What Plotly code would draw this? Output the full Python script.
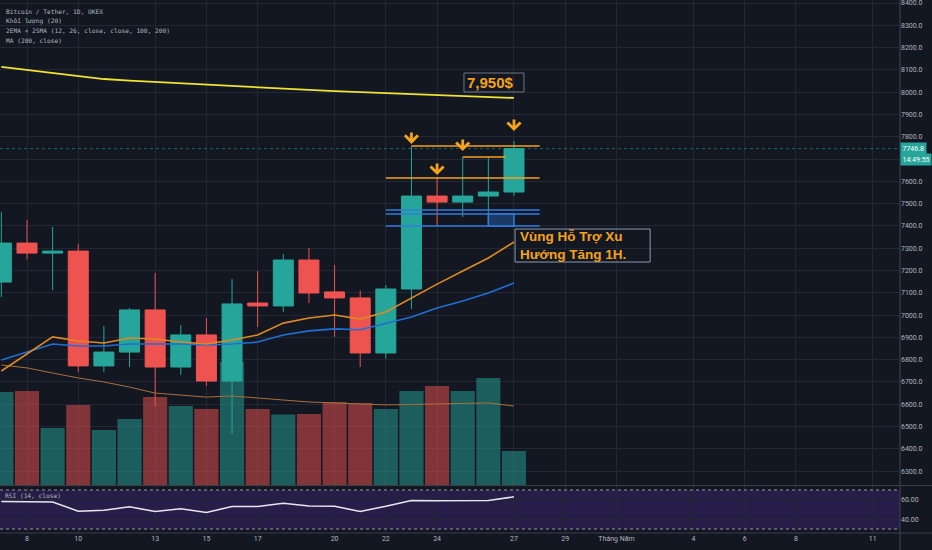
import pandas as pd
import plotly.graph_objects as go

# daily candles BTC/USDT (OKEX), 7 -> 27 April 2020
dates = pd.date_range("2020-04-07", "2020-04-27", freq="D").strftime("%Y-%m-%d").tolist()

open_ = [7148, 7323, 7278, 7287, 6772, 6834, 7023, 6767, 6911, 6704, 7054,
         7041, 7247, 7104, 7077, 6830, 7117, 7534, 7507, 7534, 7552]
high = [7462, 7427, 7395, 7319, 6951, 7032, 7189, 6955, 6987, 7162, 7198,
        7274, 7301, 7225, 7110, 7135, 7758, 7620, 7709, 7709, 7781]
low = [7081, 7250, 7112, 6745, 6745, 6767, 6592, 6731, 6682, 6467, 6947,
       7014, 7054, 6902, 6767, 6805, 7027, 7400, 7440, 7400, 7535]
close = [7323, 7278, 7287, 6772, 6834, 7023, 6767, 6911, 6704, 7050, 7041,
         7247, 7099, 7077, 6830, 7117, 7534, 7507, 7534, 7552, 7746.8]

# volume (thousands)
volume = [93, 94, 57, 80, 55, 66, 88, 79, 76, 123, 76,
          70.5, 71, 83, 82, 76, 94, 99, 94, 107, 34]

ema12 = [6749, 6825, 6902, 6884, 6875, 6897, 6893, 6879, 6870, 6888, 6911,
         6964, 6987, 7000, 6982, 7014, 7077, 7139, 7198, 7256, 7328]
ema26 = [6798, 6834, 6870, 6861, 6861, 6870, 6870, 6870, 6866, 6870, 6879,
         6911, 6929, 6938, 6934, 6964, 6991, 7032, 7063, 7099, 7144]
sma100 = [6776, 6763, 6740, 6718, 6700, 6677, 6650, 6641, 6632, 6637, 6628,
          6619, 6610, 6606, 6601, 6597, 6599, 6601, 6601, 6606, 6592]
ma200 = [8113, 8099, 8086, 8072, 8059, 8052, 8046, 8039, 8032, 8025, 8019,
         8014, 8010, 8005, 8001, 7996, 7992, 7987, 7983, 7978, 7974]

rsi = [58.3, 58.0, 57.7, 48.3, 49.3, 52.7, 48.0, 50.7, 47.0, 53.0, 53.0,
       56.3, 53.7, 53.3, 48.0, 53.3, 59.3, 59.0, 59.2, 59.3, 63.0]

tick_dates = ["2020-04-08", "2020-04-10", "2020-04-13", "2020-04-15", "2020-04-17",
              "2020-04-20", "2020-04-22", "2020-04-24", "2020-04-27", "2020-04-29",
              "2020-05-01", "2020-05-04", "2020-05-06", "2020-05-08", "2020-05-11"]
tick_text = ["8", "10", "13", "15", "17", "20", "22", "24", "27", "29",
             "Tháng Năm", "4", "6", "8", "11"]

price_ticks = list(range(6300, 8500, 100))
price_text = ["" if p == 7700 else f"{p:.1f}" for p in price_ticks]

# drawings on the chart
orange_levels = [7758, 7709, 7615]
orange_start = ["2020-04-23", "2020-04-25", "2020-04-22"]
orange_end = ["2020-04-28", "2020-04-26 16:00", "2020-04-28"]
blue_levels = [7471, 7453, 7400]
arrow_dates = ["2020-04-23", "2020-04-24", "2020-04-25", "2020-04-27"]
arrow_tips = [7768, 7628, 7736, 7826]

note_price = "7,950$"
note_zone = ["Vùng Hỗ Trợ Xu", "Hướng Tăng 1H."]

legend_lines = ["Bitcoin / Tether, 1D, OKEX", "Khối lượng (20)",
                "2EMA + 2SMA (12, 26, close, close, 100, 200)", "MA (200, close)"]

bg = "#131722"
grid = "#232734"
txt = "#b2b5be"
up = "#26a69a"
down = "#ef5350"
orange = "#f5a31a"
blue = "#2f7de1"
x_range = ["2020-04-06 22:43", "2020-05-12 01:28"]

vol_colors = ["rgba(38,166,154,0.5)" if c >= o else "rgba(239,83,80,0.5)"
              for o, c in zip(open_, close)]

fig = go.Figure()
fig.add_trace(go.Bar(x=dates, y=volume, marker_color=vol_colors, marker_line_width=0,
                     xaxis="x", yaxis="y"))
fig.add_trace(go.Scatter(x=dates, y=sma100, mode="lines", line=dict(color="#a8703a", width=1),
                         yaxis="y2"))
fig.add_trace(go.Scatter(x=dates, y=ema26, mode="lines", line=dict(color="#1f6fd6", width=1.6),
                         yaxis="y2"))
fig.add_trace(go.Scatter(x=dates, y=ema12, mode="lines", line=dict(color="#de8a22", width=1.6),
                         yaxis="y2"))
fig.add_trace(go.Scatter(x=dates, y=ma200, mode="lines", line=dict(color="#f2e232", width=1.8),
                         yaxis="y2"))
fig.add_trace(go.Candlestick(
    x=dates, open=open_, high=high, low=low, close=close, yaxis="y2",
    increasing=dict(fillcolor=up, line=dict(color=up, width=1)),
    decreasing=dict(fillcolor=down, line=dict(color=down, width=1)),
    whiskerwidth=0,
))
fig.add_trace(go.Scatter(x=dates, y=rsi, mode="lines", line=dict(color="#e6e6ee", width=1.5),
                         xaxis="x2", yaxis="y3"))

shapes = [
    # rsi band and bounds
    dict(type="rect", xref="x2 domain", yref="y3", x0=0, x1=1, y0=30, y1=70,
         fillcolor="rgba(115,60,225,0.2)", line_width=0, layer="below"),
    dict(type="line", xref="x2 domain", yref="y3", x0=0, x1=1, y0=70, y1=70,
         line=dict(color="#9598a1", width=1, dash="dot")),
    dict(type="line", xref="x2 domain", yref="y3", x0=0, x1=1, y0=30, y1=30,
         line=dict(color="#9598a1", width=1, dash="dot")),
    # last price line
    dict(type="line", xref="x domain", yref="y2", x0=0, x1=1, y0=close[-1], y1=close[-1],
         line=dict(color="rgba(38,166,154,0.55)", width=1, dash="dot")),
    # pane borders
    dict(type="line", xref="paper", yref="paper", x0=0, x1=932 / 900, y0=1 - 485.5 / 533,
         y1=1 - 485.5 / 533, line=dict(color="#3a3e4a", width=1.2)),
    dict(type="line", xref="paper", yref="paper", x0=0, x1=932 / 900, y0=0, y1=0,
         line=dict(color="#3a3e4a", width=1.2)),
    dict(type="line", xref="paper", yref="paper", x0=1, x1=1, y0=-17 / 533, y1=1,
         line=dict(color="#3a3e4a", width=1.2)),
    # frames of the two text notes
    dict(type="rect", xref="x", yref="y2", x0="2020-04-25 01:10", x1="2020-04-27 09:20",
         y0=8001, y1=8086, line=dict(color="#6e7480", width=1)),
    dict(type="rect", xref="x", yref="y2", x0="2020-04-27 01:00", x1="2020-05-02 07:30",
         y0=7238, y1=7386, line=dict(color="#8d9bb0", width=1)),
]
for lvl, s, e in zip(orange_levels, orange_start, orange_end):
    shapes.append(dict(type="line", xref="x", yref="y2", x0=s, x1=e, y0=lvl, y1=lvl,
                       line=dict(color=orange, width=1.5)))
for lvl in blue_levels:
    shapes.append(dict(type="line", xref="x", yref="y2", x0="2020-04-22", x1="2020-04-28",
                       y0=lvl, y1=lvl, line=dict(color=blue, width=1.5)))
shapes.append(dict(type="rect", xref="x", yref="y2", x0="2020-04-26", x1="2020-04-27",
                   y0=blue_levels[2], y1=blue_levels[1], fillcolor="#1b3b66",
                   line=dict(color=blue, width=1.5)))

annotations = []
for i, line in enumerate(legend_lines):
    annotations.append(dict(xref="paper", yref="paper", x=4 / 900, y=1 - (11 + 10 * i) / 533,
                            xanchor="left", yanchor="middle", showarrow=False, text=line,
                            font=dict(family="DejaVu Sans Mono", size=6.2, color=txt)))
annotations.append(dict(xref="paper", yref="paper", x=3 / 900, y=1 - 495 / 533,
                        xanchor="left", yanchor="middle", showarrow=False,
                        text="RSI (14, close)",
                        font=dict(family="DejaVu Sans Mono", size=6.2, color=txt)))
for d, p in zip(arrow_dates, arrow_tips):
    annotations.append(dict(x=d, y=p, xref="x", yref="y2", text="", showarrow=True,
                            ax=0, ay=-13, arrowhead=4, arrowsize=0.9, arrowwidth=2.8,
                            arrowcolor=orange, standoff=0))
annotations.append(dict(x="2020-04-26 02:00", y=8042, xref="x", yref="y2", showarrow=False,
                        text=f"<b>{note_price}</b>",
                        font=dict(family="Liberation Sans", size=15, color=orange)))
annotations.append(dict(x="2020-04-27 03:30", y=7312, xref="x", yref="y2", showarrow=False,
                        xanchor="left", yanchor="middle", align="left",
                        text="<b>" + "<br>".join(note_zone) + "</b>",
                        font=dict(family="Liberation Sans", size=13.5, color=orange)))
# right scale labels
annotations.append(dict(xref="paper", yref="y2", x=1, y=close[-1], xanchor="left",
                        showarrow=False, text=f"{close[-1]:.1f}", bgcolor=up, borderpad=1.5,
                        font=dict(family="Roboto", size=7, color="white")))
annotations.append(dict(xref="paper", yref="y2", x=1, y=7698, xanchor="left",
                        showarrow=False, text="14:49:55", bgcolor=up, borderpad=1.5,
                        font=dict(family="Roboto", size=7, color="white")))

fig.update_layout(
    width=932, height=550,
    margin=dict(l=0, r=32, t=0, b=17),
    paper_bgcolor=bg, plot_bgcolor=bg,
    showlegend=False,
    bargap=0.06,
    boxgap=0.22,
    boxgroupgap=0,
    font=dict(family="Roboto", size=7, color=txt),
    xaxis=dict(type="date", range=x_range, domain=[0, 1], anchor="y",
               tickvals=tick_dates, ticktext=tick_text, showticklabels=False,
               showgrid=True, gridcolor=grid, zeroline=False,
               rangeslider=dict(visible=False)),
    xaxis2=dict(type="date", range=x_range, domain=[0, 1], anchor="y3", matches="x",
                tickvals=tick_dates, ticktext=tick_text, showgrid=True, gridcolor=grid,
                zeroline=False, ticks="", ticklabeloverflow="allow"),
    yaxis=dict(domain=[1 - 485 / 533, 1], range=[0, 485], visible=False),
    yaxis2=dict(overlaying="y", side="right", anchor="x", range=[6237.7, 8413.5],
                tickvals=price_ticks, ticktext=price_text, showgrid=True, gridcolor=grid,
                zeroline=False, ticks="", ticklabeloverflow="allow"),
    yaxis3=dict(domain=[0, 1 - 486 / 533], anchor="x2", side="right", range=[25.9, 74.1],
                tickvals=[40, 60], ticktext=["40.00", "60.00"], showgrid=True,
                gridcolor=grid, zeroline=False, ticks=""),
    shapes=shapes,
    annotations=annotations,
)

# the page body has a default 8px margin; drop it so the chart fills the window
fig.write_html("out.html", config={"displayModeBar": False},
               post_script="document.body.style.margin='0';"
               "document.body.style.background='#131722';")
